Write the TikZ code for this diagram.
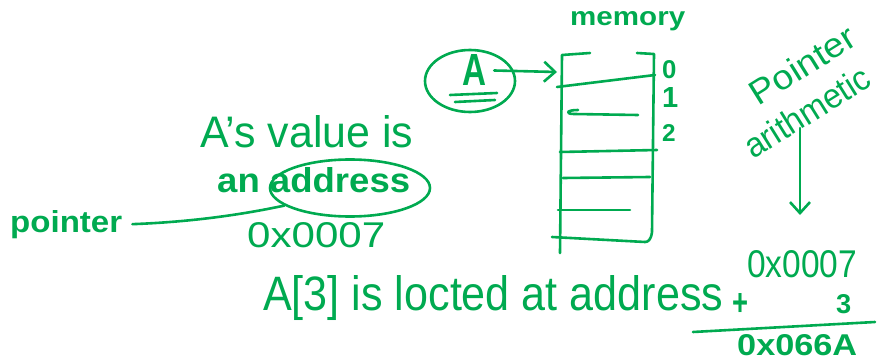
\documentclass[tikz,border=0pt]{standalone}
\usepackage{fontspec}
\setmainfont{Liberation Sans}
\usepackage{graphicx}
\usetikzlibrary{shapes.geometric,arrows.meta}
\definecolor{ink}{RGB}{0,170,80}
\newcommand{\hw}[3]{\resizebox{#1}{#2}{#3}}
\begin{document}
\begin{tikzpicture}[x=1pt,y=-1pt,
  ink/.style={draw=ink,line width=2.6pt,line cap=round,line join=round},
  txt/.style={text=ink,inner sep=0pt,anchor=base west},
  barb/.style={-{Straight Barb[length=11pt,width=20pt,line width=2.6pt]}}]
\useasboundingbox (0,0) rectangle (879,361);

% memory column
\node[txt] (memlbl) at (570,26) {\hw{115pt}{14pt}{\bfseries memory}};
\coordinate (memin) at (557,72);
\draw[ink] (590,53) -- (562,55) -- (560,253);
\draw[ink] (637,53) -- (654,54) -- (652,232) .. controls (651,240) and (648,242) .. (645,242);
\draw[ink] (557,87) -- (655,75);
\draw[ink] (578,110) .. controls (566,110) and (565,114) .. (574,114) -- (638,115);
\draw[ink] (560,152) -- (657,150);
\draw[ink] (563,178) -- (650,177);
\draw[ink] (558,210) -- (630,210);
\draw[ink] (552,237) -- (645,242);
\node[txt] (l0) at (662,79) {\hw{!}{18pt}{\bfseries 0}};
\node[txt] (l1) at (662,107) {\hw{!}{20pt}{\bfseries 1}};
\node[txt] (l2) at (662,141) {\hw{!}{17pt}{\bfseries 2}};

% A circled
\node[ink,ellipse,minimum width=90pt,minimum height=62pt] (Acirc) at (470,81) {};
\node[txt,anchor=base] (Aletter) at (474,86) {\hw{24pt}{31pt}{\bfseries A}};
\draw[ink] (450,95) -- (497,93);
\draw[ink] (455,102) -- (495,100);
\draw[ink,barb] ([xshift=8pt]Aletter.east) -- (memin);

% A's value is an address
\node[txt] (val) at (200,147) {\hw{213pt}{32pt}{A's value is}};
\node[txt] (an) at (217,193) {\hw{193pt}{25pt}{\bfseries an address}};
\node[ink,ellipse,minimum width=160pt,minimum height=57pt] (ell) at (350,188) {};
\node[txt] (ptr) at (10,232) {\hw{112pt}{22pt}{\bfseries pointer}};
\draw[ink] ([xshift=10pt]ptr.east) .. controls (190,222) and (240,215) .. (ell.195);
\node[txt] (hex1) at (247,247) {\hw{138pt}{25pt}{0x0007}};

% bottom
\node[txt] (loc) at (263,310) {\hw{460pt}{35pt}{A[3] is locted at address}};
\node[txt] (h2) at (747,277) {\hw{110pt}{27pt}{0x0007}};
\node[txt,anchor=center] (plus) at (740,304) {\hw{16pt}{22pt}{\bfseries +}};
\node[txt] (three) at (836,313) {\hw{!}{19pt}{\bfseries 3}};
\coordinate (sumL) at (693,332);
\coordinate (sumR) at (875,322);
\draw[ink] (sumL) -- (sumR);
\node[txt] (h3) at (737,355) {\hw{120pt}{21pt}{\bfseries 0x066A}};

% pointer arithmetic
\node[txt,rotate=32] (pa) at (753,160) {\vbox{\baselineskip=42pt\lineskiplimit=-100pt\lineskip=0pt
  \hbox{\hspace*{33pt}\hw{118pt}{25pt}{Pointer}}
  \hbox{\hw{142pt}{25pt}{arithmetic}}}};
\coordinate (pa1) at (800,128);
\coordinate (pa2) at (800,215);
\draw[ink,barb] (pa1) -- (pa2);
\end{tikzpicture}
\end{document}
